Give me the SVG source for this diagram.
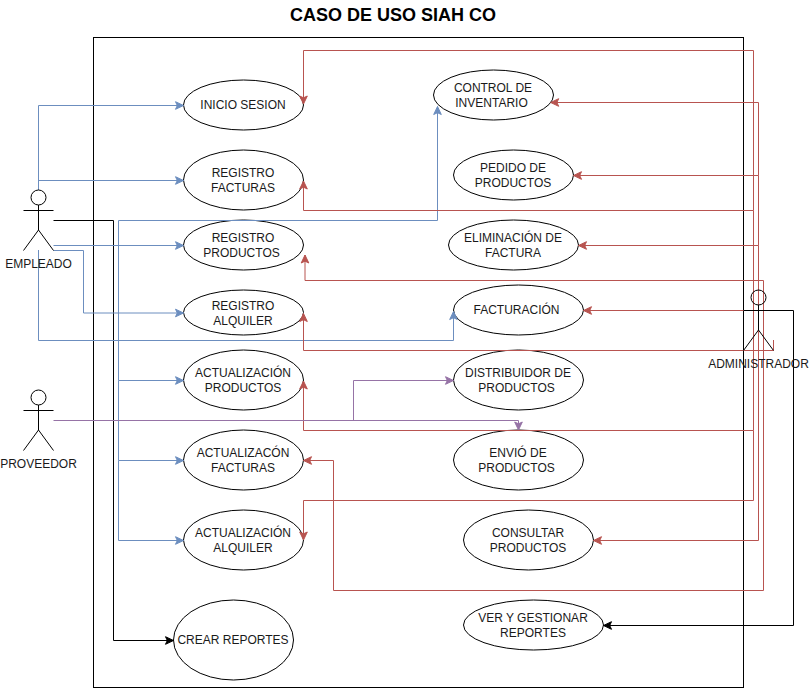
<svg xmlns="http://www.w3.org/2000/svg" width="809" height="688" viewBox="0 0 809 688">
<style>
text{font-family:"Liberation Sans",Arial,sans-serif;font-size:12px;fill:#1a1a1a;text-anchor:middle}
.title{font-size:18px;font-weight:bold;fill:#000}
.uc{fill:#fff;stroke:#000;stroke-width:1}
.act{fill:none;stroke:#000;stroke-width:1}
.c{fill:none;stroke-width:1}
.b{stroke:#6c8ebf;marker-end:url(#ab)}
.r{stroke:#b85450;marker-end:url(#ar)}
.p{stroke:#9673a6;marker-end:url(#ap)}
.k{stroke:#000;marker-end:url(#ak)}
</style>
<defs>
<marker id="ab" markerUnits="userSpaceOnUse" markerWidth="10" markerHeight="10" refX="8" refY="4" orient="auto" overflow="visible"><path d="M8,4 L0,0.2 L1.8,4 L0,7.8Z" fill="#6c8ebf" stroke="#6c8ebf"/></marker>
<marker id="ar" markerUnits="userSpaceOnUse" markerWidth="10" markerHeight="10" refX="8" refY="4" orient="auto" overflow="visible"><path d="M8,4 L0,0.2 L1.8,4 L0,7.8Z" fill="#b85450" stroke="#b85450"/></marker>
<marker id="ap" markerUnits="userSpaceOnUse" markerWidth="10" markerHeight="10" refX="8" refY="4" orient="auto" overflow="visible"><path d="M8,4 L0,0.2 L1.8,4 L0,7.8Z" fill="#9673a6" stroke="#9673a6"/></marker>
<marker id="ak" markerUnits="userSpaceOnUse" markerWidth="10" markerHeight="10" refX="8" refY="4" orient="auto" overflow="visible"><path d="M8,4 L0,0.2 L1.8,4 L0,7.8Z" fill="#000" stroke="#000"/></marker>
</defs>
<text class="title" x="393" y="21">CASO DE USO SIAH CO</text>
<rect id="frame" x="93.5" y="37.5" width="650" height="650" fill="#fff" stroke="#000"/>

<g id="n-inicio"><ellipse class="uc" cx="243.5" cy="105" rx="60" ry="25"/><text x="243" y="109">INICIO SESION</text></g>
<g id="n-regfact"><ellipse class="uc" cx="243.5" cy="180" rx="60" ry="30"/><text x="243" y="177">REGISTRO</text><text x="243" y="192">FACTURAS</text></g>
<g id="n-regprod"><ellipse class="uc" cx="243.5" cy="245" rx="60" ry="25"/><text x="243" y="242">REGISTRO</text><text x="241.500" y="257">PRODUCTOS</text></g>
<g id="n-regalq"><ellipse class="uc" cx="243.5" cy="312.5" rx="60" ry="22.500"/><text x="243" y="310">REGISTRO</text><text x="243" y="325">ALQUILER</text></g>
<g id="n-actprod"><ellipse class="uc" cx="243.5" cy="380" rx="60" ry="30"/><text x="243" y="377">ACTUALIZACIÓN</text><text x="243" y="392">PRODUCTOS</text></g>
<g id="n-actfact"><ellipse class="uc" cx="243.5" cy="460" rx="60" ry="30"/><text x="243" y="457">ACTUALIZACÓN</text><text x="243" y="472">FACTURAS</text></g>
<g id="n-actalq"><ellipse class="uc" cx="243.5" cy="540" rx="60" ry="30"/><text x="243" y="537">ACTUALIZACIÓN</text><text x="243" y="552">ALQUILER</text></g>
<g id="n-crear"><ellipse class="uc" cx="233.5" cy="640" rx="60" ry="40"/><text x="233" y="644">CREAR REPORTES</text></g>
<g id="n-control"><ellipse class="uc" cx="493.5" cy="95" rx="60" ry="25"/><text x="493" y="92">CONTROL DE</text><text x="491.500" y="107">INVENTARIO</text></g>
<g id="n-pedido"><ellipse class="uc" cx="513.500" cy="175" rx="60" ry="25"/><text x="513" y="172">PEDIDO DE</text><text x="513" y="187">PRODUCTOS</text></g>
<g id="n-elim"><ellipse class="uc" cx="513.500" cy="245" rx="65" ry="25"/><text x="513" y="242">ELIMINACIÓN DE</text><text x="513" y="257">FACTURA</text></g>
<g id="n-fact"><ellipse class="uc" cx="518.500" cy="310" rx="65" ry="25"/><text x="516.500" y="314">FACTURACIÓN</text></g>
<g id="n-dist"><ellipse class="uc" cx="518.500" cy="380" rx="65" ry="30"/><text x="518" y="377">DISTRIBUIDOR DE</text><text x="516.500" y="392">PRODUCTOS</text></g>
<g id="n-envio"><ellipse class="uc" cx="518.500" cy="460" rx="65" ry="30"/><text x="518" y="457">ENVIÓ DE</text><text x="516.500" y="472">PRODUCTOS</text></g>
<g id="n-consultar"><ellipse class="uc" cx="528.500" cy="540" rx="65" ry="30"/><text x="528" y="537">CONSULTAR</text><text x="528" y="552">PRODUCTOS</text></g>
<g id="n-ver"><ellipse class="uc" cx="533.500" cy="625" rx="70" ry="25"/><text x="533" y="622">VER Y GESTIONAR</text><text x="533" y="637">REPORTES</text></g>

<g id="connectors">
<path class="c k" d="M53.500,220.500H113.500V640.500H173.500"/>
<path class="c k" d="M743.500,310.500H793.500V625.500H603.500"/>
<path class="c b" d="M38.500,190V105.500H183.500"/>
<path class="c b" d="M38.500,180.500H183.500"/>
<path class="c b" d="M53.500,245.500H183.500"/>
<path class="c b" d="M53.500,250.500H83.500V313H183.500"/>
<path class="c b" d="M38.500,250V340.500H453.500V311.500"/>
<path class="c b" d="M118.500,220.500H437.500V106.500"/>
<path class="c b" d="M118.500,220.500V380.500H183.500"/>
<path class="c b" d="M118.500,380.500V460.500H183.500"/>
<path class="c b" d="M118.500,460.500V540.500H183.500"/>
<path class="c r" d="M753.500,210.500V50.500H303.500V104"/>
<path class="c r" d="M753.500,210.500H303.500V181"/>
<path class="c r" d="M753.500,210.500V430.500H303.500V381"/>
<path class="c r" d="M753.500,430.500V500.500H303.500V540"/>
<path class="c r" d="M773.500,340V350.500H303.500V313.500"/>
<path class="c r" d="M763.500,290V280.500H305V255"/>
<path class="c r" d="M763.500,290V590.500H333.500V460.500H303.500"/>
<path class="c r" d="M758.500,175.500V102.500H550.700"/>
<path class="c r" d="M758.500,175.500H573.500"/>
<path class="c r" d="M758.500,175.500V245.500H578.500"/>
<path class="c r" d="M758.500,310.500H583.500"/>
<path class="c r" d="M758.500,245.500V540.500H593.500"/>
<path class="c p" d="M53.500,420.500H518.500V430"/>
<path class="c p" d="M353.500,420.500V380.500H453.500"/>
</g>

<g id="a-empleado"><ellipse class="act" cx="38.500" cy="197.500" rx="7.500" ry="7.500"/><path class="act" d="M38.500,205V230M23.500,210.500H53.500M23.500,250.500L38.500,230L53.500,250.500"/><text x="38.500" y="268">EMPLEADO</text></g>
<g id="a-proveedor"><ellipse class="act" cx="38.500" cy="397.500" rx="7.500" ry="7.500"/><path class="act" d="M38.500,405V430M23.500,410.500H53.500M23.500,450.500L38.500,430L53.500,450.500"/><text x="38.500" y="468">PROVEEDOR</text></g>
<g id="a-admin"><ellipse class="act" cx="758.500" cy="297.500" rx="7.500" ry="7.500"/><path class="act" d="M758.500,305V330M743.500,310.500H773.500M743.500,350.500L758.500,330L773.500,350.500"/><text x="758.500" y="368">ADMINISTRADOR</text></g>
</svg>
